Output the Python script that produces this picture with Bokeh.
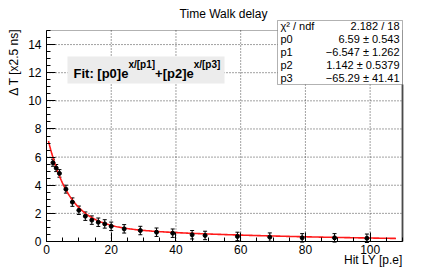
import math
from bokeh.plotting import figure
from bokeh.models import (ColumnDataSource, Whisker, TeeHead, Label, BoxAnnotation,
                          FixedTicker, Range1d)
from bokeh.embed import file_html
from bokeh.resources import INLINE

# ---- data ----
hit_ly = [2, 3, 4, 6, 8, 10, 12, 14, 16, 18, 20, 24, 29, 34, 39, 45, 49, 59, 69, 79, 89, 99]
delta_t = [5.6, 5.22, 4.84, 3.72, 2.8, 2.22, 1.8, 1.52, 1.37, 1.25, 1.08, 0.9, 0.78, 0.66,
           0.59, 0.48, 0.43, 0.36, 0.31, 0.26, 0.26, 0.23]
delta_t_err = [0.25, 0.25, 0.27, 0.28, 0.3, 0.3, 0.3, 0.3, 0.3, 0.3, 0.3, 0.3, 0.3, 0.3,
               0.3, 0.3, 0.3, 0.3, 0.3, 0.3, 0.3, 0.3]

# fit parameters shown in the stats box
p0, p1, p2, p3 = 6.59, -6.547, 1.142, -65.29
stat_names = ["χ² / ndf", "p0", "p1", "p2", "p3"]
stat_values = ["2.182 / 18", "6.59 ± 0.543", "−6.547 ± 1.262", "1.142 ± 0.5379", "−65.29 ± 41.41"]
fit_range = (0.6, 108.0)

x_major = [0, 20, 40, 60, 80, 100]
x_minor = list(range(0, 111, 5))
y_major = [0, 2, 4, 6, 8, 10, 12, 14]
y_minor = [i * 0.5 for i in range(0, 31)]

X0, X1, Y0, Y1 = 0, 110, 0, 15          # axis extent
FL, FR, FT, FB = 46, 402, 30, 241       # page-pixel geometry of that extent
W, H = 436, 270
SX = (FR - FL) / (X1 - X0)
SY = (FB - FT) / (Y1 - Y0)


def dx(px):
    return X0 + (px - FL) / SX


def dy(py):
    return Y0 + (FB - py) / SY


FONT = "Liberation Sans"

# the plotting frame covers the whole canvas; the axes are pinned at x=0 / y=0
# so that every text (title, stats box, axis titles) lies inside the frame
p = figure(width=W, height=H, output_backend="svg", toolbar_location=None,
           x_range=Range1d(dx(0), dx(W)), y_range=Range1d(dy(H), dy(0)),
           min_border=0)
p.background_fill_color = "white"
p.border_fill_color = "white"
p.outline_line_color = None
p.xgrid.visible = False
p.ygrid.visible = False

for ax, maj, mnr, bnd in ((p.xaxis[0], x_major, x_minor, (X0, X1)),
                          (p.yaxis[0], y_major, y_minor, (Y0, Y1))):
    ax.ticker = FixedTicker(ticks=maj, minor_ticks=mnr)
    ax.bounds = bnd
    ax.fixed_location = 0
    ax.major_tick_in = 9
    ax.major_tick_out = 0
    ax.minor_tick_in = 4
    ax.minor_tick_out = 0
    ax.axis_line_color = "black"
    ax.major_tick_line_color = "black"
    ax.minor_tick_line_color = "black"
    ax.major_label_text_font = FONT
    ax.major_label_text_font_size = "12px"
    ax.major_label_text_color = "black"
p.xaxis.major_label_standoff = 3
p.yaxis.major_label_standoff = 5

# dotted grid at major ticks
gx = x_major[1:]
gy = y_major[1:]
p.segment(x0=gx, y0=[Y0] * len(gx), x1=gx, y1=[Y1] * len(gx),
          line_color="#444444", line_dash="1 2", line_width=1)
p.segment(x0=[X0] * len(gy), y0=gy, x1=[X1] * len(gy), y1=gy,
          line_color="#444444", line_dash="1 2", line_width=1)

# frame border
p.add_layout(BoxAnnotation(left=X0, right=X1, bottom=Y0, top=Y1, fill_alpha=0,
                           line_color="black", line_width=1))

# fit curve (evaluated from the fit parameters)
n = 300
xs = [fit_range[0] + (fit_range[1] - fit_range[0]) * i / (n - 1) for i in range(n)]
ys = [p0 * math.exp(x / p1) + p2 * math.exp(x / p3) for x in xs]
p.line(xs, ys, line_color="#ff1a1a", line_width=1.6)

# data with error bars
src = ColumnDataSource(dict(x=hit_ly, y=delta_t,
                            lo=[v - e for v, e in zip(delta_t, delta_t_err)],
                            hi=[v + e for v, e in zip(delta_t, delta_t_err)]))
p.add_layout(Whisker(source=src, base="x", lower="lo", upper="hi", line_color="black",
                     line_width=1,
                     lower_head=TeeHead(size=4, line_color="black", line_width=1),
                     upper_head=TeeHead(size=4, line_color="black", line_width=1)))
p.scatter("x", "y", source=src, size=4, color="black")

# fit formula box
p.add_layout(BoxAnnotation(left=dx(67), right=dx(224), top=dy(56), bottom=dy(83),
                           fill_color="#ececec", fill_alpha=1.0, line_alpha=0))
segs = [("Fit: [p0]e", 13, False), ("x/[p1]", 10, True),
        ("+[p2]e", 13, False), ("x/[p3]", 10, True)]
# approximate bold Helvetica advance widths (em)
em_w = {"Fit: [p0]e": 4.222, "x/[p1]": 2.667, "+[p2]e": 2.973, "x/[p3]": 2.667}
cx = 73.0
for txt, fs, sup in segs:
    py = 64 if sup else 73
    p.add_layout(Label(x=dx(cx), y=dy(py), text=txt, text_font=FONT,
                       text_font_size=f"{fs}px", text_font_style="bold",
                       text_align="left", text_baseline="middle", text_color="black"))
    cx += em_w[txt] * fs

# stats box with shadow on the frame's right side
p.segment(x0=[X1], y0=[Y0], x1=[X1], y1=[dy(84)], line_color="#6a6a6a", line_width=2)
p.add_layout(BoxAnnotation(left=dx(277), right=dx(402), top=dy(20), bottom=dy(84),
                           fill_color="white", fill_alpha=1.0, line_color="black",
                           line_width=1))
row_y = [25, 38, 51, 64, 77]
for name, val, ry in zip(stat_names, stat_values, row_y):
    p.add_layout(Label(x=dx(280), y=dy(ry), text=name, text_font=FONT, text_font_size="11px",
                       text_align="left", text_baseline="middle", text_color="black"))
    p.add_layout(Label(x=dx(399), y=dy(ry), text=val, text_font=FONT, text_font_size="11px",
                       text_align="right", text_baseline="middle", text_color="black"))

# title and axis titles
p.add_layout(Label(x=dx(223), y=dy(13), text="Time Walk delay", text_font=FONT,
                   text_font_size="12px", text_align="center", text_baseline="middle",
                   text_color="black"))
p.add_layout(Label(x=dx(402), y=dy(259), text="Hit LY [p.e]", text_font=FONT,
                   text_font_size="12px", text_align="right", text_baseline="middle",
                   text_color="black"))
p.add_layout(Label(x=dx(13), y=dy(28), text="Δ T [x2.5 ns]", text_font=FONT,
                   text_font_size="12px", text_align="right", text_baseline="middle",
                   angle=math.pi / 2, text_color="black"))

open("out.html", "w").write(file_html(p, INLINE))
